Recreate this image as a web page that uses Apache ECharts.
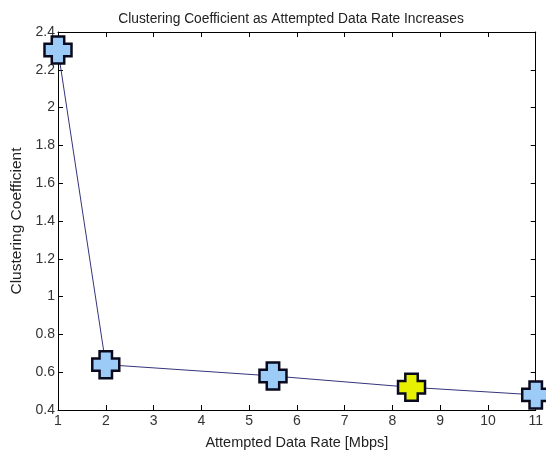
<!DOCTYPE html>
<html>
<head>
<meta charset="utf-8">
<script src="https://cdn.jsdelivr.net/npm/echarts@6/dist/echarts.min.js"></script>
<style>
  html, body { margin: 0; padding: 0; background: #fff; }
  #chart { width: 546px; height: 455px; }
</style>
</head>
<body>
<div id="chart"></div>
<script>
  // data
  var rates = [1, 2, 5.5, 8.4, 11];
  var coeffs = [2.305, 0.64, 0.58, 0.52, 0.48];
  var highlightRate = 8.4;

  var plusPath = 'path://M2.7,0 H7.3 V2.7 H10 V7.3 H7.3 V10 H2.7 V7.3 H0 V2.7 H2.7 Z';
  var fontFam = '"Liberation Sans", Arial, sans-serif';

  var points = rates.map(function (r, i) {
    return {
      value: [r, coeffs[i]],
      itemStyle: { color: r === highlightRate ? '#e6f000' : '#9ccbf7' }
    };
  });

  var chart = echarts.init(document.getElementById('chart'));
  var tickStyle = { inside: true, length: 5, lineStyle: { color: '#000', width: 1 } };
  chart.setOption({
    animation: false,
    title: {
      text: 'Clustering Coefficient as Attempted Data Rate Increases',
      left: 286, top: 7, textAlign: 'center',
      textStyle: { fontFamily: fontFam, fontSize: 13.8, fontWeight: 'normal', color: '#222' }
    },
    grid: { left: 58, right: 7, top: 32, bottom: 43 },
    xAxis: [{
      type: 'value', min: 1, max: 11, interval: 1,
      name: 'Attempted Data Rate [Mbps]', nameLocation: 'middle', nameGap: 25,
      nameTextStyle: { fontFamily: fontFam, fontSize: 14.5, color: '#222' },
      axisLine: { lineStyle: { color: '#000' } },
      axisTick: tickStyle,
      axisLabel: { fontFamily: fontFam, fontSize: 14, color: '#333', margin: 4 },
      splitLine: { show: false }
    }, {
      type: 'value', position: 'top', min: 1, max: 11, interval: 1,
      axisLine: { show: true, lineStyle: { color: '#000' } },
      axisTick: tickStyle, axisLabel: { show: false }, splitLine: { show: false }
    }],
    yAxis: [{
      type: 'value', min: 0.4, max: 2.4, interval: 0.2,
      name: 'Clustering Coefficient', nameLocation: 'middle', nameGap: 26,
      nameTextStyle: { fontFamily: fontFam, fontSize: 15.5, color: '#222' },
      axisLine: { show: true, lineStyle: { color: '#000' } },
      axisTick: tickStyle,
      axisLabel: { fontFamily: fontFam, fontSize: 14, color: '#333', margin: 3,
        formatter: function (v) { return +v.toFixed(1) + ''; } },
      splitLine: { show: false }
    }, {
      type: 'value', position: 'right', min: 0.4, max: 2.4, interval: 0.2,
      axisLine: { show: true, lineStyle: { color: '#000' } },
      axisTick: tickStyle, axisLabel: { show: false }, splitLine: { show: false }
    }],
    series: [{
      type: 'line',
      data: points,
      clip: false,
      symbol: plusPath,
      symbolSize: 27,
      lineStyle: { color: '#34347a', width: 1 },
      itemStyle: { borderColor: '#0a0a1e', borderWidth: 2.5 }
    }]
  });
</script>
</body>
</html>
